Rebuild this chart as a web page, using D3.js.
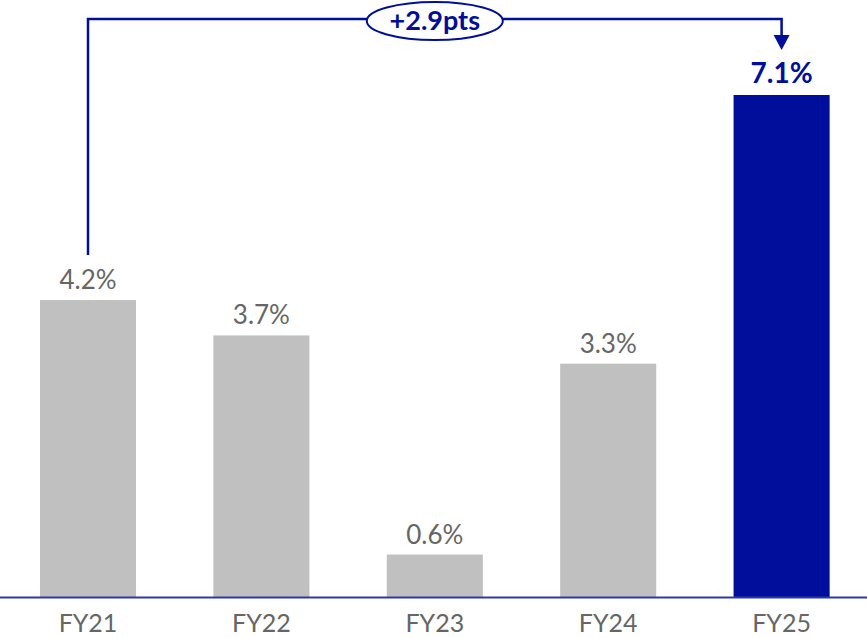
<!DOCTYPE html>
<html>
<head>
<meta charset="utf-8">
<script src="https://cdn.jsdelivr.net/npm/d3@7"></script>
<style>
  html, body { margin: 0; padding: 0; background: #fff; }
  svg { display: block; }
</style>
</head>
<body>
<svg id="chart" width="867" height="638"></svg>
<script>
var years = ["FY21", "FY22", "FY23", "FY24", "FY25"];
var values = [4.2, 3.7, 0.6, 3.3, 7.1];
var labels = ["4.2%", "3.7%", "0.6%", "3.3%", "7.1%"];
var changeLabel = "+2.9pts";

var W = 867, H = 638;
var navy = "#000f9b";
var grey = "#c0c0c0";
var textGrey = "#666666";
var fontFam = "Lato, 'Noto Sans', sans-serif";

var svg = d3.select("svg#chart");

var x = d3.scaleBand().domain(years).range([1.3, W + 1.3]).paddingInner(0.446).paddingOuter(0.223);
var y = d3.scaleLinear().domain([0, 7.1]).range([597, 95]);

// bars
svg.selectAll("rect.bar")
  .data(values)
  .enter()
  .append("rect")
  .attr("class", "bar")
  .attr("x", function(d, i){ return x(years[i]); })
  .attr("y", function(d){ return y(d); })
  .attr("width", x.bandwidth())
  .attr("height", function(d){ return y(0) - y(d); })
  .attr("fill", function(d, i){ return i == years.length - 1 ? navy : grey; });

// value labels
svg.selectAll("text.val")
  .data(values)
  .enter()
  .append("text")
  .attr("class", "val")
  .attr("x", function(d, i){ return x(years[i]) + x.bandwidth()/2; })
  .attr("y", function(d, i){ return y(d) - (i == years.length - 1 ? 12 : 11); })
  .attr("text-anchor", "middle")
  .attr("font-family", fontFam)
  .attr("font-size", function(d, i){ return i == years.length - 1 ? "28px" : "26px"; })
  .attr("font-weight", function(d, i){ return i == years.length - 1 ? "bold" : "normal"; })
  .attr("fill", function(d, i){ return i == years.length - 1 ? navy : textGrey; })
  .text(function(d, i){ return labels[i]; });

// baseline
svg.append("line")
  .attr("x1", 0).attr("x2", W)
  .attr("y1", y(0) + 0.5).attr("y2", y(0) + 0.5)
  .attr("stroke", "#2a3aa8")
  .attr("stroke-width", 2);

// category labels
svg.selectAll("text.cat")
  .data(years)
  .enter()
  .append("text")
  .attr("class", "cat")
  .attr("x", function(d){ return x(d) + x.bandwidth()/2; })
  .attr("y", 632)
  .attr("text-anchor", "middle")
  .attr("font-family", fontFam)
  .attr("font-size", "25px")
  .attr("fill", textGrey)
  .text(function(d){ return d; });

// change bracket
var first = 0, last = years.length - 1;
var xa = x(years[first]) + x.bandwidth()/2;
var xb = x(years[last]) + x.bandwidth()/2;
var topY = 19;
svg.append("path")
  .attr("d", "M" + xa + "," + (y(values[first]) - 45) + "V" + topY + "H" + xb + "V" + (y(values[last]) - 58))
  .attr("fill", "none")
  .attr("stroke", navy)
  .attr("stroke-width", 2.5);
svg.append("path")
  .attr("d", "M" + (xb - 8) + "," + (y(values[last]) - 60) + "L" + (xb + 8) + "," + (y(values[last]) - 60) + "L" + xb + "," + (y(values[last]) - 45) + "Z")
  .attr("fill", navy);

var cx = (x(years[2]) + x.bandwidth()/2);
svg.append("ellipse")
  .attr("cx", cx).attr("cy", topY + 2)
  .attr("rx", 68).attr("ry", 19)
  .attr("fill", "#fff")
  .attr("stroke", navy)
  .attr("stroke-width", 2);
svg.append("text")
  .attr("x", cx).attr("y", topY + 11)
  .attr("text-anchor", "middle")
  .attr("font-family", fontFam)
  .attr("font-size", "27px")
  .attr("font-weight", "bold")
  .attr("fill", navy)
  .text(changeLabel);
</script>
</body>
</html>
